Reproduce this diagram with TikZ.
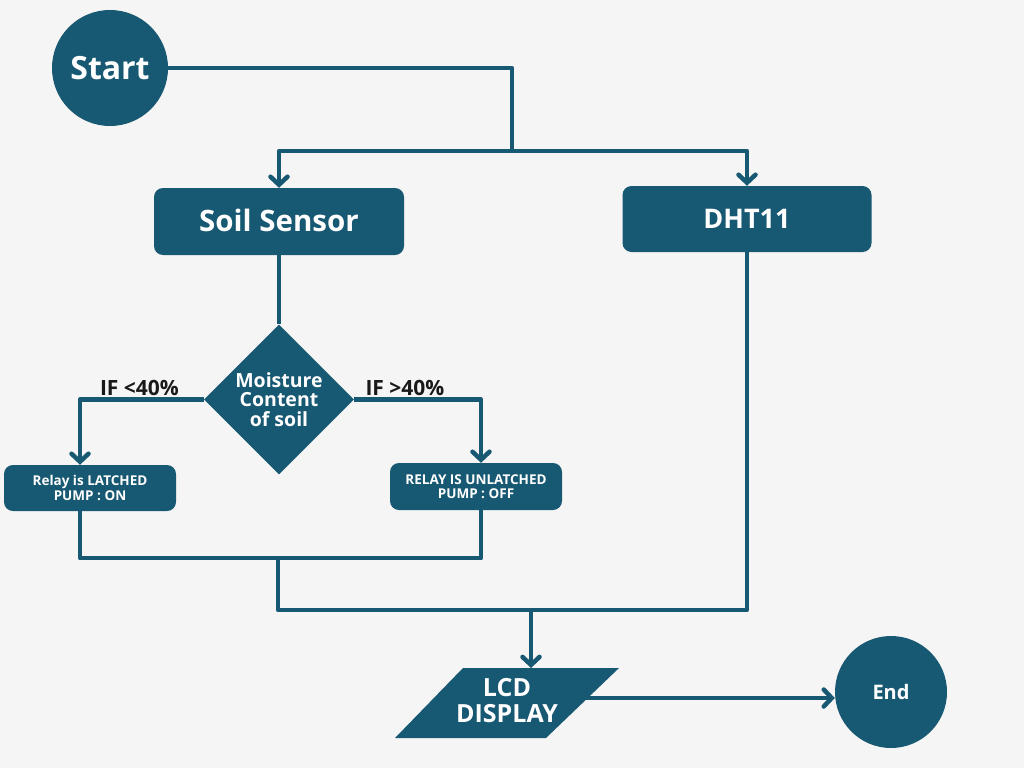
\documentclass[tikz,border=0pt]{standalone}
\usepackage{fontspec}
\setmainfont{Open Sans}
\usetikzlibrary{arrows.meta,positioning,shapes.geometric,calc}
\definecolor{bleu}{RGB}{23,88,114}
\definecolor{fond}{RGB}{245,245,245}

\begin{document}
\begin{tikzpicture}[x=1pt,y=-1pt,
    bloc/.style={fill=bleu,rounded corners=9pt,text=white,align=center,inner sep=2pt},
    rond/.style={circle,fill=bleu,text=white,inner sep=0pt},
    fil/.style={draw=bleu,line width=4.5pt,line join=round},
    fl/.style={fil,-{Straight Barb[length=8pt,width=17pt,line cap=round]}},
    etiq/.style={font=\bfseries\fontsize{21}{24}\selectfont,text=black!90,inner sep=1pt}]
  \fill[fond](0,0) rectangle (1024,768);
  \useasboundingbox (0,0) rectangle (1024,768);
  % noeuds
  \node[rond,minimum size=116pt,font=\bfseries\fontsize{32}{36}\selectfont](start) at (110,68){Start};
  \node[bloc,minimum width=250pt,minimum height=67pt,font=\bfseries\fontsize{29.5}{33}\selectfont](soil) at (279,221.5){\raisebox{2pt}{Soil Sensor}};
  \node[bloc,minimum width=249pt,minimum height=66pt,font=\bfseries\fontsize{27}{30}\selectfont](dht) at (747,219){DHT11};
  \node[diamond,fill=bleu,text=white,minimum size=150pt,inner sep=0pt,align=center,
        font=\bfseries\fontsize{19.5}{19.5}\selectfont](moist) at (279,399.5){Moisture\\Content\\of soil};
  \node[bloc,minimum width=172pt,minimum height=46pt,font=\bfseries\fontsize{13.5}{14.5}\selectfont](latch) at (90,488){Relay is LATCHED\\PUMP : ON};
  \node[bloc,minimum width=172pt,minimum height=47pt,font=\bfseries\fontsize{13.5}{14.5}\selectfont](unlatch) at (476,486.5){RELAY IS UNLATCHED\\PUMP : OFF};
  \node[rond,minimum size=112pt,font=\bfseries\fontsize{20}{22}\selectfont](fin) at (891,692){End};
  % ecran LCD
  \fill[bleu](463,668) -- (619,668) -- (546,738) -- (395,738) -- cycle;
  \node[text=white,align=center,font=\bfseries\fontsize{25}{26}\selectfont](lcd) at (507,701){LCD\\DISPLAY};
  \coordinate (lcdT) at (531,668);
  \coordinate (lcdR) at (583,698);
  \coordinate (split) at (512,151);
  \coordinate (merge) at (278,558);
  \coordinate (bus) at (278,610);
  \coordinate (busL) at (531,610);
  % liaisons
  \draw[fil](start.east) -| (split);
  \draw[fl](split) -| (soil.north);
  \draw[fl](split) -| (dht.north);
  \draw[fil](soil.south) -- (moist.north);
  \draw[fl](moist.west) -| node[etiq,pos=0.26,above=1pt]{IF <40\%} ([xshift=-10pt]latch.north);
  \draw[fl](moist.east) -| node[etiq,pos=0.2,above=1pt]{IF >40\%} ([xshift=5pt]unlatch.north);
  \draw[fil]([xshift=-10pt]latch.south) -- ++(0,47) -| ([xshift=5pt]unlatch.south);
  \draw[fil](merge) -- (bus) -| (dht.south);
  \draw[fl](busL) -- (lcdT);
  \draw[fl](lcdR) -- (lcdR -| fin.west);
\end{tikzpicture}
\end{document}
